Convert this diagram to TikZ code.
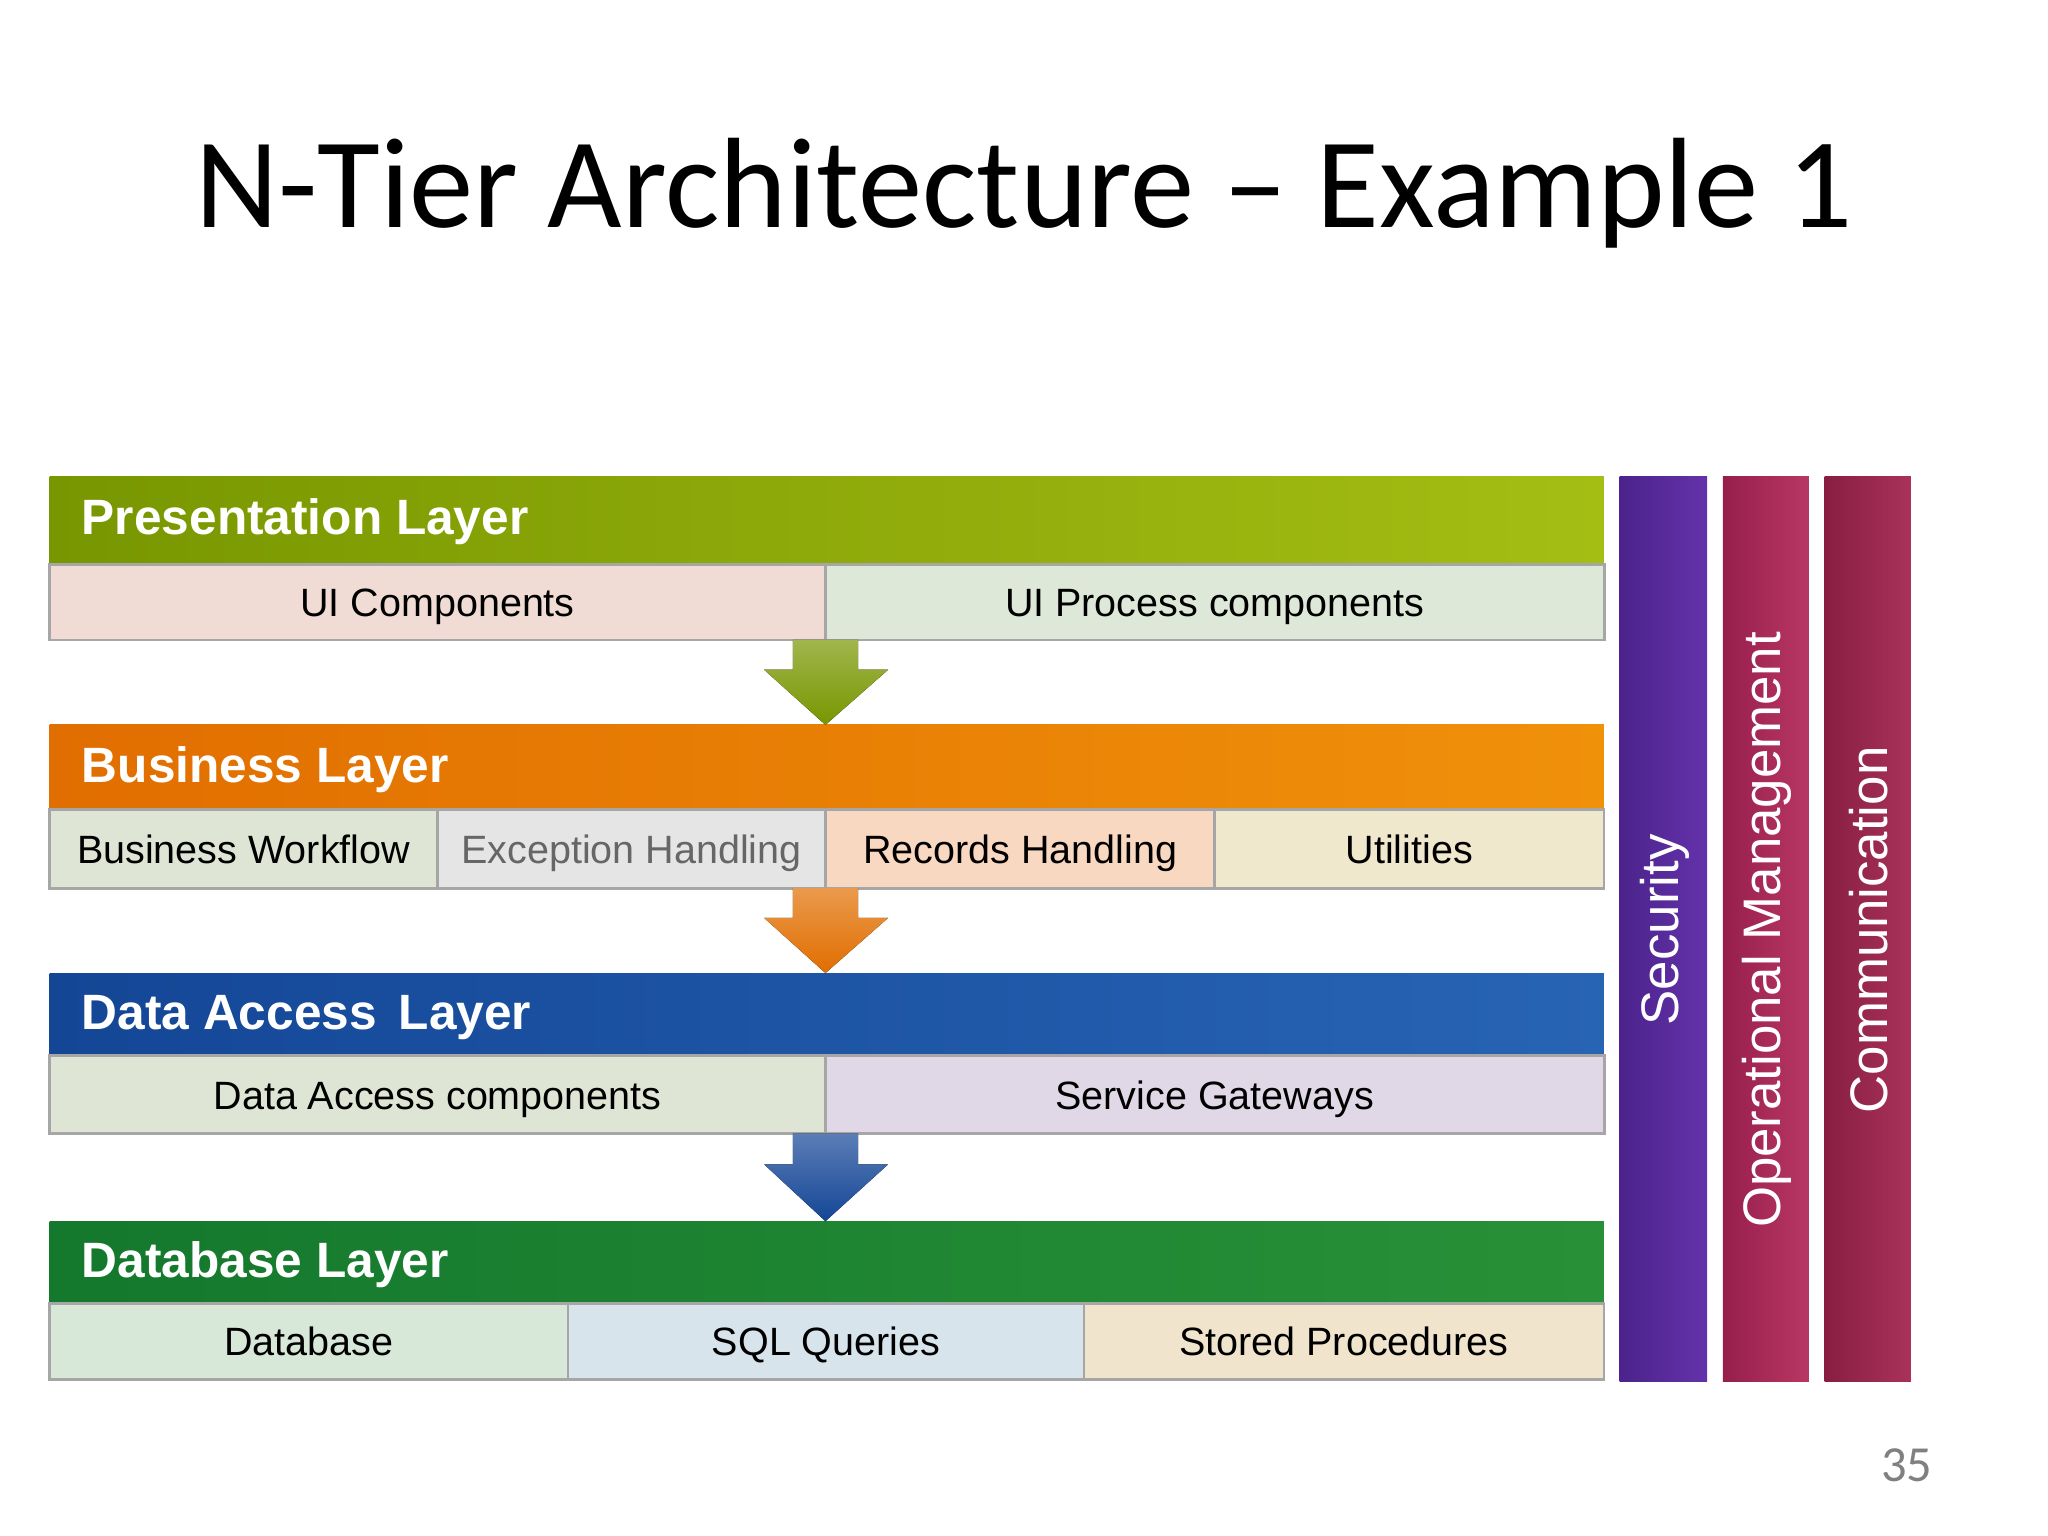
\documentclass[tikz,border=0pt]{standalone}
\usepackage{fontspec}
\setmainfont{Liberation Sans}
\newfontfamily\titlefont{Carlito}
\definecolor{plA}{RGB}{120,150,0}\definecolor{plB}{RGB}{165,190,20}
\definecolor{blA}{RGB}{225,110,0}\definecolor{blB}{RGB}{240,145,10}
\definecolor{daA}{RGB}{20,70,150}\definecolor{daB}{RGB}{40,100,180}
\definecolor{dbA}{RGB}{20,120,45}\definecolor{dbB}{RGB}{40,145,55}
\definecolor{secA}{RGB}{75,35,140}\definecolor{secB}{RGB}{100,50,170}
\definecolor{omA}{RGB}{150,30,75}\definecolor{omB}{RGB}{185,55,100}
\definecolor{coA}{RGB}{135,30,65}\definecolor{coB}{RGB}{170,50,90}
\begin{document}
\begin{tikzpicture}[x=0.01cm,y=-0.01cm,
  cell/.style={draw=gray!70,line width=0.6pt,inner sep=0pt,text height=1.6ex,text depth=0.4ex,font=\fontsize{8.6}{10}\selectfont},
  lbl/.style={font=\bfseries\fontsize{10.8}{12}\selectfont,text=white,anchor=west,inner sep=0pt,text height=1.6ex,text depth=0.4ex},
  vlbl/.style={font=\fontsize{11.5}{13}\selectfont,text=white,rotate=90}]
\useasboundingbox (0,0) rectangle (1568,1176);
\node[font=\titlefont\fontsize{28}{32}\selectfont] (title) at (784,148) {N-Tier Architecture – Example 1};
\fill[left color=plA,right color=plB] (38,365) rectangle (1228,432);
\fill[left color=blA,right color=blB] (38,555) rectangle (1228,620);
\fill[left color=daA,right color=daB] (38,745) rectangle (1228,808);
\fill[left color=dbA,right color=dbB] (38,935) rectangle (1228,998);
\node[lbl] (pl) at (62,398) {Presentation Layer};
\node[lbl] (bl) at (62,588) {Business Layer};
\node[lbl] (dal) at (62,777) {Data Access\, Layer};
\node[lbl] (dbl) at (62,967) {Database Layer};
\node[cell,fill={rgb,255:red,240;green,220;blue,212},minimum width=5.94cm,minimum height=0.58cm] (uic) at (335,461) {UI Components};
\node[cell,fill={rgb,255:red,221;green,232;blue,216},minimum width=5.96cm,minimum height=0.58cm] (uip) at (930,461) {UI Process components};
\node[cell,fill={rgb,255:red,223;green,229;blue,213},minimum width=2.97cm,minimum height=0.6cm] (bw) at (186.5,650) {Business Workflow};
\node[cell,fill={rgb,255:red,229;green,229;blue,229},minimum width=2.97cm,minimum height=0.6cm,text=gray!80!black] (eh) at (483.5,650) {Exception Handling};
\node[cell,fill={rgb,255:red,248;green,216;blue,192},minimum width=2.98cm,minimum height=0.6cm] (rh) at (781,650) {Records Handling};
\node[cell,fill={rgb,255:red,240;green,232;blue,204},minimum width=2.98cm,minimum height=0.6cm] (ut) at (1079,650) {Utilities};
\node[cell,fill={rgb,255:red,223;green,229;blue,213},minimum width=5.94cm,minimum height=0.6cm] (dac) at (335,838) {Data Access components};
\node[cell,fill={rgb,255:red,224;green,216;blue,230},minimum width=5.96cm,minimum height=0.6cm] (sg) at (930,838) {Service Gateways};
\node[cell,fill={rgb,255:red,216;green,232;blue,216},minimum width=3.97cm,minimum height=0.58cm] (db) at (236.5,1027) {Database};
\node[cell,fill={rgb,255:red,216;green,228;blue,236},minimum width=3.95cm,minimum height=0.58cm] (sql) at (632.5,1027) {SQL Queries};
\node[cell,fill={rgb,255:red,240;green,228;blue,204},minimum width=3.98cm,minimum height=0.58cm] (sp) at (1029,1027) {Stored Procedures};
\newcommand\darrow[3]{\fill[top color=#3!70!white,bottom color=#3] (607,#1) -- (657,#1) -- (657,{#1+0.35*(#2-#1)}) -- (680,{#1+0.35*(#2-#1)}) -- (632,#2) -- (585,{#1+0.35*(#2-#1)}) -- (607,{#1+0.35*(#2-#1)}) -- cycle;}
\darrow{490}{555}{plA}
\darrow{680}{745}{blA}
\darrow{868}{935}{daA}
\fill[left color=secA,right color=secB] (1240,365) rectangle (1307,1058);
\fill[left color=omA,right color=omB] (1319,365) rectangle (1385,1058);
\fill[left color=coA,right color=coB] (1397,365) rectangle (1463,1058);
\node[vlbl] (sec) at (1275,712) {Security};
\node[vlbl] (om) at (1353,712) {Operational Management};
\node[vlbl] (com) at (1431,712) {Communication};
\node[font=\titlefont\fontsize{11}{13}\selectfont,text=gray] (pg) at (1460,1122) {35};
\end{tikzpicture}
\end{document}
